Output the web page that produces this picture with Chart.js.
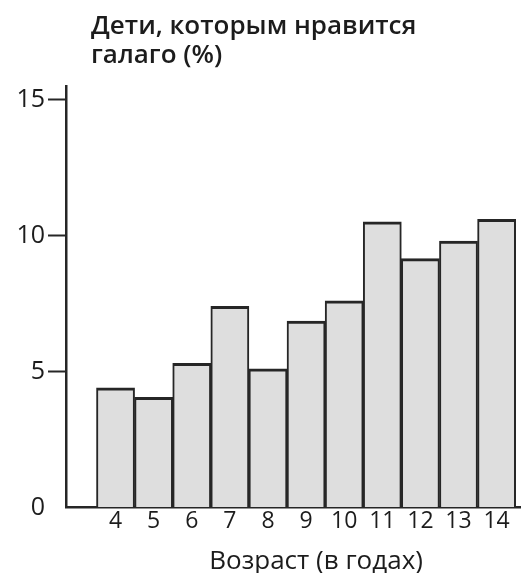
<!DOCTYPE html>
<html>
<head>
<meta charset="utf-8">
<script src="https://cdn.jsdelivr.net/npm/chart.js@4"></script>
<style>
  html, body { margin: 0; padding: 0; background: #fff; }
  #wrap { width: 521px; height: 573px; position: relative; }
</style>
</head>
<body>
<div id="wrap"><canvas id="chart"></canvas></div>
<script>
// ---------------------------------------------------------------
// DATA
// ---------------------------------------------------------------

const ages = [4, 5, 6, 7, 8, 9, 10, 11, 12, 13, 14];
const likePercent = [4.4, 4.05, 5.3, 7.4, 5.1, 6.85, 7.6, 10.5, 9.15, 9.8, 10.6];
const yTicks = [0, 5, 10, 15];
const titleLines = ['Дети, которым нравится', 'галаго (%)'];
const xTitle = 'Возраст (в годах)';

const ink = '#1c1c1c';
const font = '"Open Sans", "Noto Sans", sans-serif';

// ---------------------------------------------------------------
// TITLES (drawn by hand so they sit where the print has them)
// ---------------------------------------------------------------

const titlesPlugin = {
  id: 'titles',
  afterDraw(chart) {
    const ctx = chart.ctx;
    const x = chart.scales.x;
    ctx.save();
    ctx.fillStyle = ink;
    ctx.textBaseline = 'alphabetic';
    ctx.textAlign = 'left';
    ctx.font = '600 26px ' + font;
    ctx.fillText(titleLines[0], 91, 34);
    ctx.fillText(titleLines[1], 91, 63);
    ctx.textAlign = 'center';
    ctx.font = '26px ' + font;
    ctx.fillText(xTitle, (x.getPixelForValue(4) + x.getPixelForValue(14)) / 2 + 10, 569);
    ctx.restore();
  }
};

// ---------------------------------------------------------------
// CHART
// ---------------------------------------------------------------

new Chart(document.getElementById('chart'), {
  type: 'bar',
  data: {
    datasets: [{
      data: ages.map((a, i) => ({ x: a, y: likePercent[i] })),
      backgroundColor: '#dedede',
      borderColor: '#262626',
      borderWidth: { top: 3, left: 2, right: 2, bottom: 0 },
      borderSkipped: false,
      barPercentage: 1,
      categoryPercentage: 1
    }]
  },
  options: {
    responsive: true,
    maintainAspectRatio: false,
    animation: false,
    layout: { padding: { top: 86, left: 6, right: 0, bottom: 38 } },
    plugins: { legend: { display: false }, tooltip: { enabled: false }, title: { display: false } },
    scales: {
      x: {
        type: 'linear',
        min: 2.7,
        max: 14.64,
        offset: false,
        afterBuildTicks: (s) => { s.ticks = ages.map((v) => ({ value: v })); },
        ticks: { color: ink, font: { family: font, size: 23 }, padding: 0, maxRotation: 0, autoSkip: false },
        grid: { display: false, drawTicks: false },
        border: { display: true, color: '#262626', width: 2.5 }
      },
      y: {
        min: 0,
        max: 15.5,
        afterBuildTicks: (s) => { s.ticks = yTicks.map((v) => ({ value: v })); },
        afterFit: (s) => { s.width = 60; },
        ticks: { color: ink, font: { family: font, size: 25 }, padding: 3 },
        grid: {
          drawOnChartArea: false,
          tickLength: 18,
          tickWidth: 2,
          tickColor: (c) => (c.tick && c.tick.value === 0 ? 'rgba(0,0,0,0)' : '#262626')
        },
        border: { display: true, color: '#262626', width: 2.5 }
      }
    }
  },
  plugins: [titlesPlugin]
});
</script>
</body>
</html>
